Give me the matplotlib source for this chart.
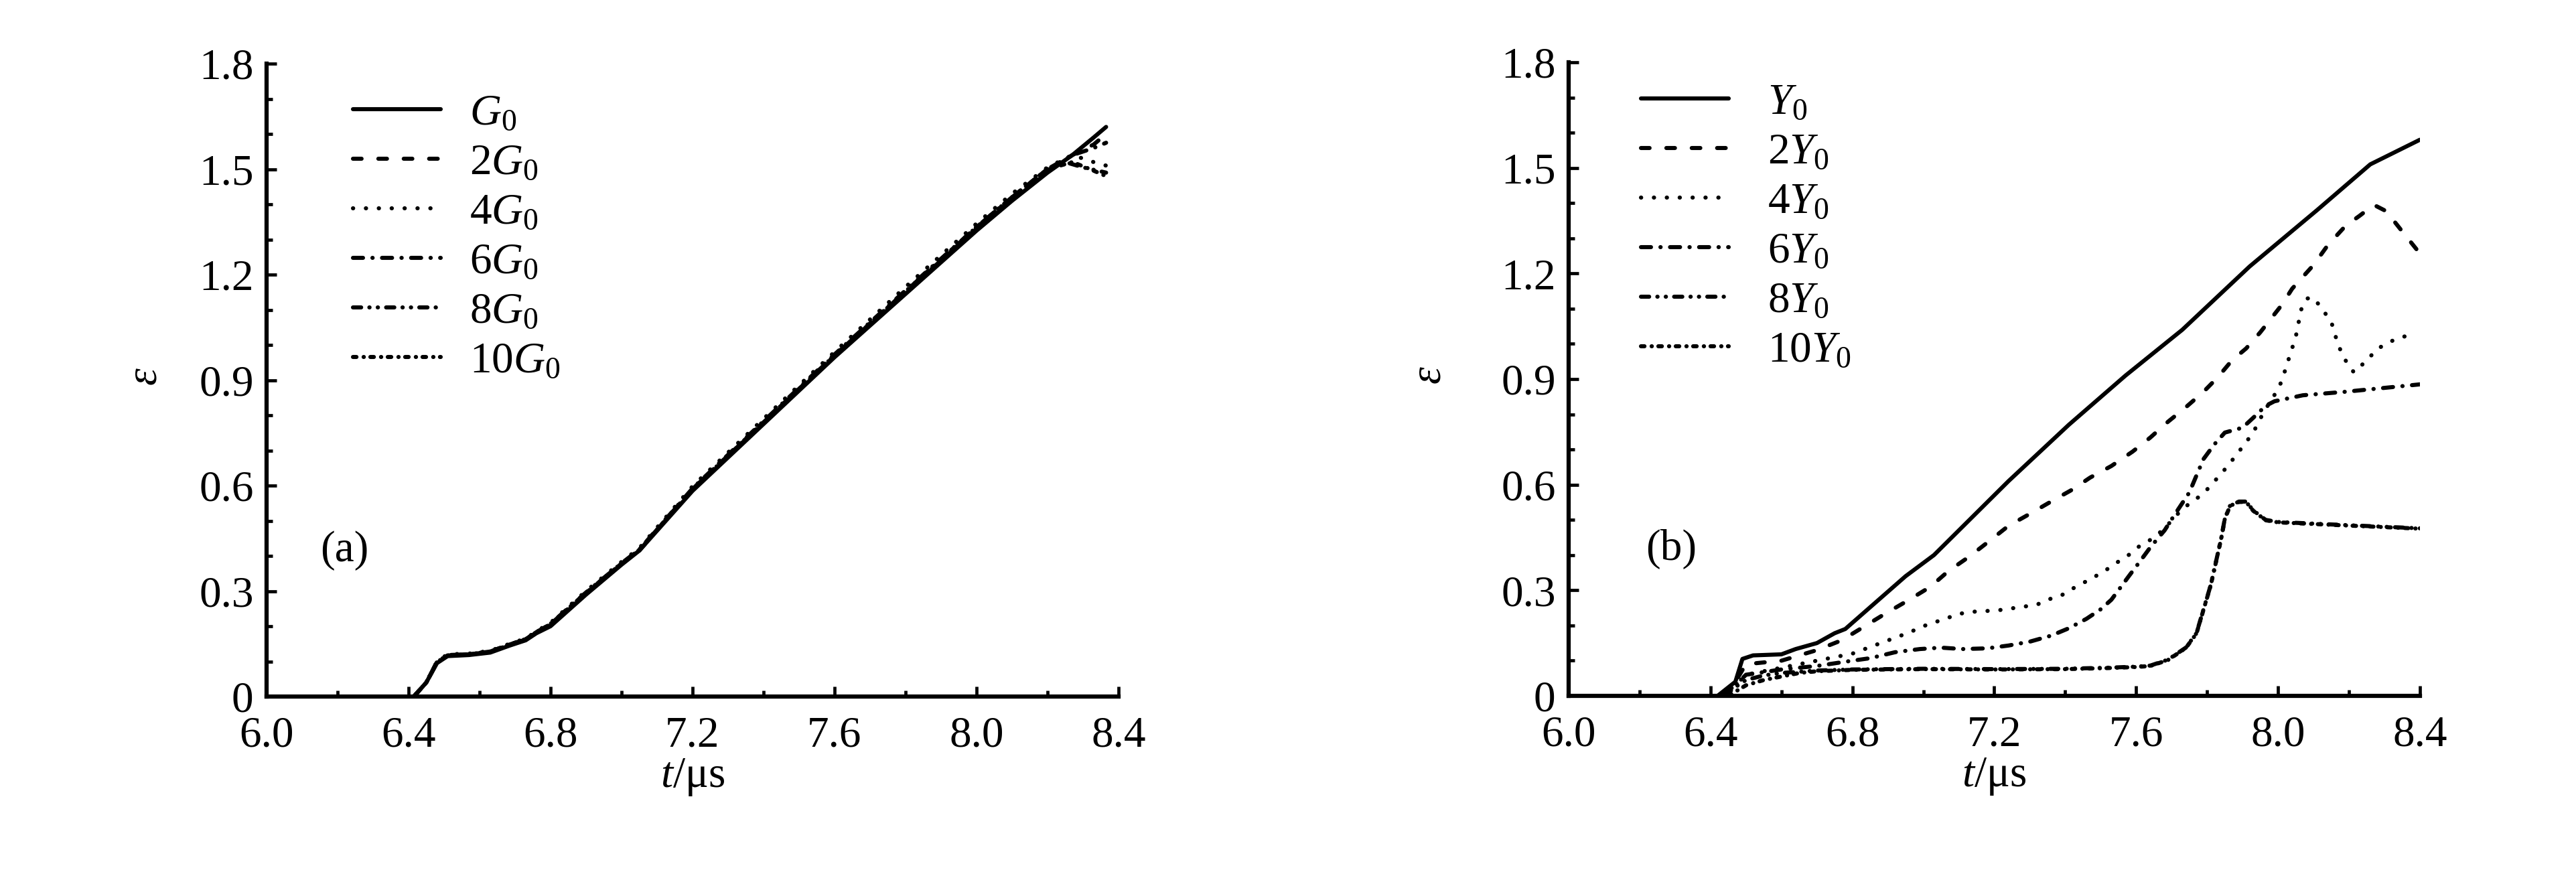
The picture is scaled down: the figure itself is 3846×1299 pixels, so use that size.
import numpy as np
import matplotlib
matplotlib.use('Agg')
import matplotlib.pyplot as plt
from matplotlib.ticker import FixedLocator, MultipleLocator

plt.rcParams['font.family'] = ['Liberation Serif', 'DejaVu Serif']
plt.rcParams['mathtext.fontset'] = 'custom'
plt.rcParams['mathtext.rm'] = 'Liberation Serif'
plt.rcParams['mathtext.it'] = 'Liberation Serif:italic'
plt.rcParams['mathtext.bf'] = 'Liberation Serif:bold'

# ---------------- data ----------------
x_ticks = [6.0, 6.4, 6.8, 7.2, 7.6, 8.0, 8.4]
x_tick_labels = ['6.0', '6.4', '6.8', '7.2', '7.6', '8.0', '8.4']
y_ticks = [0, 0.3, 0.6, 0.9, 1.2, 1.5, 1.8]
y_tick_labels = ['0', '0.3', '0.6', '0.9', '1.2', '1.5', '1.8']

labels_a = [r'$G_0$', r'$2G_0$', r'$4G_0$', r'$6G_0$', r'$8G_0$', r'$10G_0$']
labels_b = [r'$Y_0$', r'$2Y_0$', r'$4Y_0$', r'$6Y_0$', r'$8Y_0$', r'$10Y_0$']

# panel (a)
a_G1_t = [6.415, 6.45, 6.48, 6.51, 6.57, 6.63, 6.685, 6.73, 6.76, 6.80, 6.90, 7.00, 7.05, 7.20, 7.40, 7.60, 7.80, 8.00, 8.10, 8.20, 8.27, 8.33, 8.365]
a_G1_e = [0, 0.04, 0.095, 0.115, 0.118, 0.125, 0.145, 0.16, 0.18, 0.20, 0.29, 0.375, 0.415, 0.585, 0.775, 0.965, 1.145, 1.325, 1.41, 1.49, 1.54, 1.59, 1.62]
a_G2_t = [6.415, 6.45, 6.48, 6.51, 6.57, 6.63, 6.685, 6.73, 6.76, 6.80, 6.90, 7.00, 7.05, 7.20, 7.40, 7.60, 7.80, 8.00, 8.10, 8.20, 8.27, 8.33, 8.365]
a_G2_e = [0, 0.04, 0.097, 0.116, 0.12, 0.127, 0.147, 0.162, 0.182, 0.205, 0.295, 0.378, 0.415, 0.59, 0.78, 0.97, 1.15, 1.33, 1.415, 1.495, 1.54, 1.57, 1.60]
a_G4_t = [6.415, 6.45, 6.48, 6.51, 6.57, 6.63, 6.685, 6.73, 6.76, 6.80, 6.90, 7.00, 7.05, 7.20, 7.40, 7.60, 7.80, 8.00, 8.10, 8.20, 8.27, 8.33, 8.365]
a_G4_e = [0, 0.04, 0.1, 0.12, 0.122, 0.13, 0.15, 0.165, 0.185, 0.21, 0.30, 0.383, 0.422, 0.598, 0.79, 0.98, 1.165, 1.345, 1.43, 1.505, 1.54, 1.52, 1.51]
a_G6_t = [6.415, 6.45, 6.48, 6.51, 6.57, 6.63, 6.685, 6.73, 6.76, 6.80, 6.90, 7.00, 7.05, 7.20, 7.40, 7.60, 7.80, 8.00, 8.10, 8.20, 8.27, 8.33, 8.365]
a_G6_e = [0, 0.04, 0.098, 0.118, 0.12, 0.128, 0.148, 0.163, 0.183, 0.207, 0.296, 0.379, 0.418, 0.592, 0.783, 0.973, 1.155, 1.335, 1.42, 1.5, 1.54, 1.56, 1.575]
a_G8_t = [6.415, 6.45, 6.48, 6.51, 6.57, 6.63, 6.685, 6.73, 6.76, 6.80, 6.90, 7.00, 7.05, 7.20, 7.40, 7.60, 7.80, 8.00, 8.10, 8.20, 8.25, 8.30, 8.365]
a_G8_e = [0, 0.04, 0.098, 0.117, 0.12, 0.128, 0.148, 0.163, 0.183, 0.206, 0.295, 0.378, 0.417, 0.59, 0.78, 0.97, 1.152, 1.335, 1.42, 1.5, 1.52, 1.505, 1.49]
a_G10_t = [6.415, 6.45, 6.48, 6.51, 6.57, 6.63, 6.685, 6.73, 6.76, 6.80, 6.90, 7.00, 7.05, 7.20, 7.40, 7.60, 7.80, 8.00, 8.10, 8.20, 8.27, 8.32, 8.365]
a_G10_e = [0, 0.04, 0.098, 0.117, 0.12, 0.128, 0.148, 0.163, 0.183, 0.206, 0.295, 0.378, 0.417, 0.59, 0.78, 0.97, 1.152, 1.335, 1.42, 1.5, 1.52, 1.50, 1.48]

# panel (b)
b_Y1_t = [6.42, 6.47, 6.49, 6.52, 6.60, 6.64, 6.70, 6.75, 6.78, 6.95, 7.03, 7.24, 7.41, 7.57, 7.73, 7.92, 8.11, 8.26, 8.40]
b_Y1_e = [0, 0.04, 0.105, 0.115, 0.118, 0.133, 0.15, 0.178, 0.19, 0.34, 0.40, 0.61, 0.77, 0.91, 1.04, 1.22, 1.38, 1.51, 1.58]
b_Y2_t = [6.43, 6.47, 6.50, 6.60, 6.70, 6.77, 6.89, 6.96, 7.02, 7.07, 7.13, 7.19, 7.24, 7.30, 7.36, 7.42, 7.47, 7.53, 7.59, 7.64, 7.69, 7.74, 7.79, 7.83, 7.87, 7.91, 7.95, 8.01, 8.04, 8.10, 8.14, 8.19, 8.23, 8.27, 8.305, 8.345, 8.395]
b_Y2_e = [0, 0.04, 0.09, 0.10, 0.13, 0.158, 0.232, 0.273, 0.31, 0.354, 0.396, 0.443, 0.483, 0.517, 0.552, 0.586, 0.62, 0.653, 0.694, 0.734, 0.779, 0.82, 0.864, 0.905, 0.953, 0.987, 1.033, 1.11, 1.157, 1.224, 1.28, 1.335, 1.364, 1.395, 1.377, 1.326, 1.263]
b_Y4_t = [6.43, 6.47, 6.50, 6.60, 6.70, 6.80, 6.84, 6.88, 6.92, 6.96, 7.00, 7.07, 7.10, 7.14, 7.21, 7.28, 7.32, 7.35, 7.39, 7.43, 7.47, 7.51, 7.54, 7.58, 7.61, 7.65, 7.68, 7.73, 7.79, 7.82, 7.84, 7.88, 7.91, 7.93, 7.96, 7.99, 8.01, 8.03, 8.05, 8.065, 8.082, 8.10, 8.12, 8.15, 8.17, 8.195, 8.214, 8.25, 8.28, 8.32, 8.39]
b_Y4_e = [0, 0.03, 0.06, 0.08, 0.10, 0.12, 0.135, 0.15, 0.165, 0.18, 0.198, 0.222, 0.233, 0.239, 0.243, 0.253, 0.259, 0.273, 0.286, 0.31, 0.331, 0.354, 0.375, 0.401, 0.426, 0.449, 0.476, 0.531, 0.575, 0.609, 0.631, 0.681, 0.721, 0.748, 0.807, 0.855, 0.893, 0.957, 1.02, 1.097, 1.129, 1.131, 1.105, 1.063, 0.995, 0.944, 0.919, 0.953, 0.986, 1.008, 1.033]
b_Y6_t = [6.43, 6.47, 6.50, 6.60, 6.70, 6.80, 6.85, 6.92, 6.99, 7.05, 7.11, 7.18, 7.24, 7.30, 7.36, 7.41, 7.46, 7.50, 7.53, 7.55, 7.58, 7.61, 7.64, 7.68, 7.71, 7.75, 7.77, 7.79, 7.82, 7.85, 7.90, 7.93, 7.965, 7.99, 8.07, 8.19, 8.40]
b_Y6_e = [0, 0.03, 0.06, 0.075, 0.085, 0.10, 0.107, 0.124, 0.133, 0.137, 0.133, 0.135, 0.143, 0.154, 0.171, 0.192, 0.219, 0.246, 0.273, 0.30, 0.341, 0.381, 0.422, 0.47, 0.517, 0.578, 0.626, 0.673, 0.714, 0.748, 0.762, 0.79, 0.824, 0.837, 0.854, 0.864, 0.885]
b_Y8_t = [6.44, 6.47, 6.50, 6.55, 6.60, 6.70, 6.80, 7.00, 7.20, 7.40, 7.52, 7.60, 7.64, 7.69, 7.74, 7.77, 7.79, 7.81, 7.825, 7.84, 7.85, 7.865, 7.89, 7.91, 7.93, 7.965, 8.00, 8.15, 8.40]
b_Y8_e = [0, 0.025, 0.045, 0.058, 0.065, 0.072, 0.075, 0.077, 0.076, 0.077, 0.08, 0.083, 0.086, 0.103, 0.137, 0.178, 0.246, 0.314, 0.381, 0.449, 0.504, 0.541, 0.552, 0.552, 0.527, 0.50, 0.494, 0.487, 0.476]
b_Y10_t = [6.45, 6.50, 6.55, 6.60, 6.65, 6.70, 6.80, 7.00, 7.20, 7.40, 7.52, 7.60, 7.64, 7.69, 7.74, 7.77, 7.79, 7.81, 7.825, 7.84, 7.85, 7.865, 7.89, 7.91, 7.93, 7.965, 8.00, 8.15, 8.40]
b_Y10_e = [0, 0.03, 0.045, 0.055, 0.065, 0.07, 0.074, 0.076, 0.075, 0.076, 0.079, 0.082, 0.085, 0.102, 0.136, 0.177, 0.245, 0.313, 0.38, 0.448, 0.503, 0.54, 0.551, 0.551, 0.526, 0.499, 0.493, 0.486, 0.475]

series_a = [(a_G1_t, a_G1_e), (a_G2_t, a_G2_e), (a_G4_t, a_G4_e),
            (a_G6_t, a_G6_e), (a_G8_t, a_G8_e), (a_G10_t, a_G10_e)]
series_b = [(b_Y1_t, b_Y1_e), (b_Y2_t, b_Y2_e), (b_Y4_t, b_Y4_e),
            (b_Y6_t, b_Y6_e), (b_Y8_t, b_Y8_e), (b_Y10_t, b_Y10_e)]

# ---------------- style ----------------
FS = 47
LW = 4.4
styles = ['-',
          (0, (2.1, 4.1)),
          (0, (0.05, 3.1)),
          (0, (2.45, 2.3, 0.05, 2.3)),
          (0, (2.0, 2.0, 0.05, 2.0, 0.05, 2.0)),
          (0, (0.85, 1.75, 0.05, 1.6))]

fig = plt.figure(figsize=(38.46, 12.99), dpi=100)
ax_a = fig.add_axes([0.10348, 0.19938, 0.33073, 0.72748])
ax_b = fig.add_axes([0.60894, 0.20015, 0.33047, 0.72825])


def setup(ax):
    ax.set_xlim(6.0, 8.4)
    ax.set_ylim(0, 1.8)
    ax.spines['top'].set_visible(False)
    ax.spines['right'].set_visible(False)
    for s in ['left', 'bottom']:
        ax.spines[s].set_linewidth(4.5)
    ax.xaxis.set_major_locator(FixedLocator(x_ticks))
    ax.set_xticklabels(x_tick_labels)
    ax.yaxis.set_major_locator(FixedLocator(y_ticks))
    ax.set_yticklabels(y_tick_labels)
    ax.xaxis.set_minor_locator(MultipleLocator(0.2))
    ax.yaxis.set_minor_locator(MultipleLocator(0.1))
    ax.tick_params(which='major', direction='in', length=10.8, width=3.4,
                   labelsize=FS)
    ax.tick_params(which='minor', direction='in', length=6.5, width=3.4)
    ax.tick_params(axis='x', which='major', pad=21)
    ax.tick_params(axis='y', which='major', pad=14)
    ax.set_xlabel(r'$t$/μs', fontsize=FS)
    ax.set_ylabel(r'$\varepsilon$', fontsize=FS)


for ax, series, labels in [(ax_a, series_a, labels_a), (ax_b, series_b, labels_b)]:
    setup(ax)
    for (t, e), ls, lab in zip(series, styles, labels):
        ax.plot(t, e, color='black', lw=LW, linestyle=ls, label=lab,
                dash_capstyle='round', solid_capstyle='round')

ax_a.xaxis.set_label_coords(0.5, -0.095)
ax_b.xaxis.set_label_coords(0.5, -0.095)
ax_a.yaxis.set_label_coords(-0.118, 0.506)
ax_b.yaxis.set_label_coords(-0.14, 0.506)

ax_a.legend(loc='upper left', bbox_to_anchor=(0.1014, 0.952), frameon=False,
            fontsize=FS, borderpad=0, borderaxespad=0, handlelength=2.0,
            handletextpad=0.67, labelspacing=0.22)
ax_b.legend(loc='upper left', bbox_to_anchor=(0.085, 0.967), frameon=False,
            fontsize=FS, borderpad=0, borderaxespad=0, handlelength=2.0,
            handletextpad=0.9, labelspacing=0.22)

ax_a.text(6.22, 0.415, '(a)', ha='center', va='center', fontsize=FS)
ax_b.text(6.29, 0.417, '(b)', ha='center', va='center', fontsize=FS)

fig.savefig('out.png', dpi=100)
